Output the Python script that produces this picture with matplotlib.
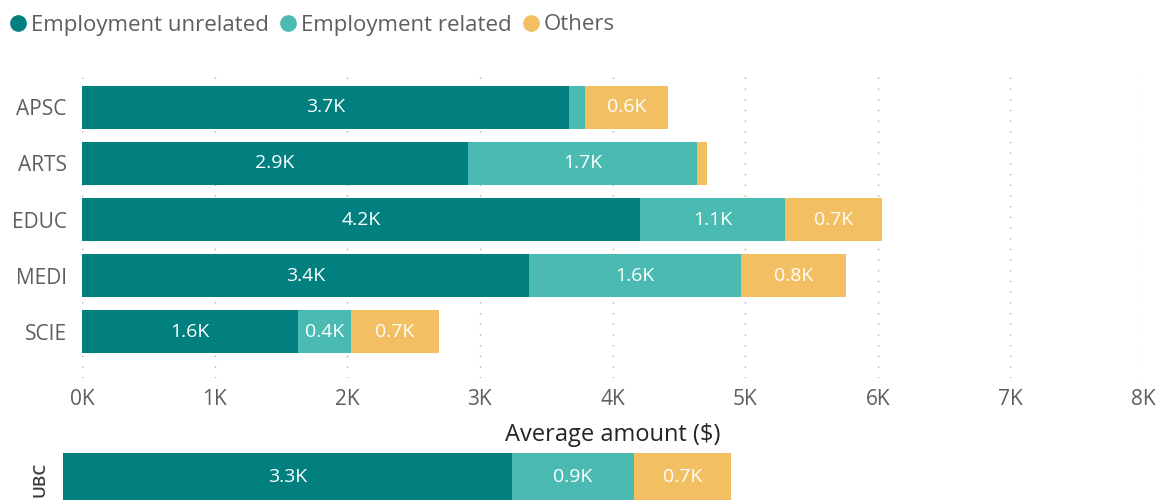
import matplotlib.pyplot as plt
from matplotlib.lines import Line2D

plt.rcParams['font.family'] = ['Open Sans', 'DejaVu Sans']

# average amounts in K$
faculties = ['APSC', 'ARTS', 'EDUC', 'MEDI', 'SCIE']
unrelated = [3.67, 2.91, 4.21, 3.37, 1.63]
related = [0.12, 1.73, 1.09, 1.60, 0.40]
others = [0.63, 0.07, 0.73, 0.79, 0.66]

ubc_label = ['UBC']
ubc_unrelated = [3.30]
ubc_related = [0.90]
ubc_others = [0.71]

series_names = ['Employment unrelated', 'Employment related', 'Others']
colors = ['#01807F', '#4ABAB2', '#F3BF63']
xticks = [0, 1, 2, 3, 4, 5, 6, 7, 8]
xtick_labels = [f'{t}K' for t in xticks]

grey = '#605E5C'


def stacked(ax, ypos, groups, height):
    left = [0] * len(ypos)
    for vals, col in zip(groups, colors):
        ax.barh(ypos, vals, left=left, height=height, color=col)
        for y, l, v in zip(ypos, left, vals):
            if v >= 0.3:
                ax.text(l + v / 2, y, f'{v:.1f}K', ha='center', va='center',
                        color='white', fontsize=14)
        left = [a + b for a, b in zip(left, vals)]


fig = plt.figure(figsize=(11.57, 5), dpi=100)

ax = fig.add_axes([82 / 1157, 1 - 378 / 500, 1061 / 1157, 308 / 500])
ypos = list(range(len(faculties)))
stacked(ax, ypos, [unrelated, related, others], 0.765)
ax.set_xlim(0, 8)
ax.set_ylim(4.82, -0.66)
ax.set_yticks(ypos)
ax.set_yticklabels(faculties)
ax.set_xticks(xticks)
ax.set_xticklabels(xtick_labels)
ax.tick_params(axis='both', length=0, colors=grey, labelsize=15)
ax.tick_params(axis='y', pad=11)
ax.tick_params(axis='x', pad=8)
ax.grid(axis='x', linestyle=(0, (1, 6.7)), color='#B3B0AD', linewidth=1)
ax.set_axisbelow(True)
for s in ax.spines.values():
    s.set_visible(False)
ax.set_xlabel('Average amount ($)', fontsize=17, color='#252423', labelpad=9)

# UBC overall bar (separate visual, cut off at the bottom)
ax2 = fig.add_axes([63 / 1157, 1 - 501 / 500, 1088 / 1157, 48 / 500])
stacked(ax2, [0], [ubc_unrelated, ubc_related, ubc_others], 1.0)
ax2.set_xlim(0, 8)
ax2.set_ylim(0.5, -0.5)
ax2.axis('off')
fig.text(40 / 1157, 1 - 479 / 500, ubc_label[0], rotation=90, ha='center', va='center',
         fontsize=12.5, color='#3B3A39', fontweight='semibold')

handles = [Line2D([], [], marker='o', linestyle='', markersize=11,
                  markerfacecolor=c, markeredgecolor=c) for c in colors]
fig.legend(handles, series_names, loc='center left', bbox_to_anchor=(11 / 1157, 1 - 25 / 500),
           ncol=3, frameon=False, fontsize=16, labelcolor=grey, handlelength=0.6,
           handletextpad=0.3, columnspacing=0.55, borderpad=0, borderaxespad=0)

fig.savefig('out.png', dpi=100)
